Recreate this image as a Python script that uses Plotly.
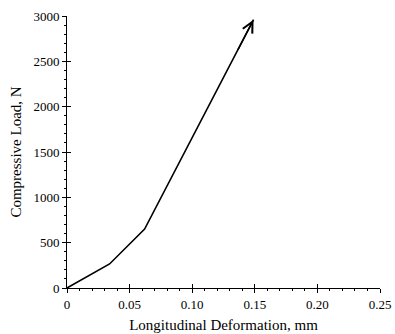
import plotly.graph_objects as go

deformation = [0.0, 0.034, 0.062, 0.149]
load = [0, 265, 650, 2960]
x_ticks = [0, 0.05, 0.10, 0.15, 0.20, 0.25]
x_tick_labels = ["0", "0.05", "0.10", "0.15", "0.20", "0.25"]
y_ticks = [0, 500, 1000, 1500, 2000, 2500, 3000]

font = "Liberation Serif, Times New Roman, serif"

fig = go.Figure()
fig.add_trace(go.Scatter(x=deformation, y=load, mode="lines",
                         line=dict(color="black", width=1.6),
                         showlegend=False, hoverinfo="skip"))
fig.add_trace(go.Scatter(x=[deformation[0]], y=[load[0]], xaxis="x2", yaxis="y2",
                         mode="markers", marker=dict(opacity=0), showlegend=False,
                         hoverinfo="skip"))

# open arrowhead at the end of the curve
fig.add_annotation(x=deformation[-1], y=load[-1],
                   ax=deformation[-2] + (deformation[-1] - deformation[-2]) * 0.85,
                   ay=load[-2] + (load[-1] - load[-2]) * 0.85,
                   xref="x", yref="y", axref="x", ayref="y",
                   showarrow=True, arrowhead=5, arrowsize=1.4, arrowwidth=1.5,
                   arrowcolor="black", text="")

axis_common = dict(showgrid=False, zeroline=False, linecolor="black", linewidth=1,
                   tickcolor="black", ticklen=4, tickwidth=1, automargin=False,
                   tickfont=dict(size=13))

fig.update_layout(
    width=395, height=334,
    margin=dict(l=67, r=15, t=16, b=46),
    paper_bgcolor="white", plot_bgcolor="white",
    font=dict(family=font, color="black", size=13),
    xaxis=dict(range=[0, 0.25], tickvals=x_ticks, ticktext=x_tick_labels,
               showline=True, ticks="outside", ticklabeloverflow="allow",
               minor=dict(dtick=0.01, ticks="outside", ticklen=2, tickcolor="black"),
               title=dict(text="Longitudinal Deformation, mm", font=dict(size=15), standoff=8),
               **axis_common),
    yaxis=dict(range=[0, 3000], tickvals=y_ticks, showline=True, ticks="outside",
               minor=dict(dtick=100, ticks="outside", ticklen=2, tickcolor="black"),
               title=dict(text="Compressive Load, N", font=dict(size=15), standoff=8),
               **axis_common),
    xaxis2=dict(range=[0, 0.25], overlaying="x", tickvals=x_ticks, showticklabels=False,
                ticks="inside", showline=False, showgrid=False, zeroline=False,
                tickcolor="black", ticklen=4, tickwidth=1),
    yaxis2=dict(range=[0, 3000], overlaying="y", tickvals=y_ticks, showticklabels=False,
                ticks="inside", showline=False, showgrid=False, zeroline=False,
                tickcolor="black", ticklen=4, tickwidth=1),
)

fig.write_html("out.html", config={"displayModeBar": False},
               post_script="document.body.style.margin='0';document.body.style.overflow='hidden';")
